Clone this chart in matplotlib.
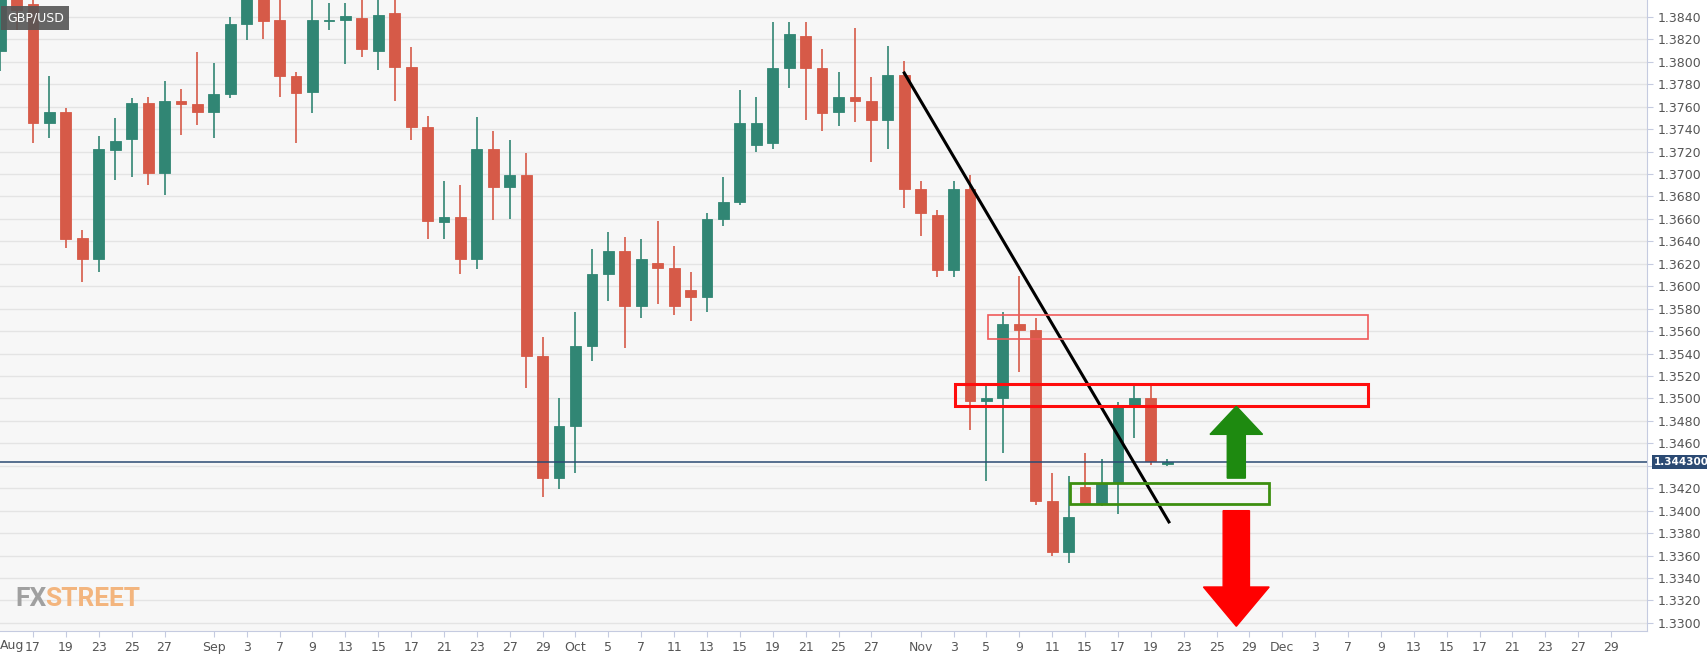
import matplotlib
matplotlib.use("Agg")
import matplotlib.pyplot as plt
from matplotlib.patches import Rectangle, FancyArrow
import pandas as pd

dates = pd.bdate_range("2021-08-13", "2021-11-22")
opens = [1.3810,1.3858,1.3851,1.3745,1.3755,1.3643,1.3624,1.3721,1.3731,1.3763,1.3701,1.3765,1.3762,1.3755,1.3771,1.3834,
         1.3865,1.3837,1.3787,1.3773,1.3836,1.3837,1.3839,1.3810,1.3843,1.3795,1.3742,1.3657,1.3662,1.3624,1.3722,1.3688,
         1.3699,1.3538,1.3429,1.3475,1.3547,1.3611,1.3631,1.3582,1.3621,1.3616,1.3597,1.3590,1.3660,1.3675,1.3726,1.3728,
         1.3794,1.3823,1.3794,1.3755,1.3769,1.3765,1.3748,1.3788,1.3687,1.3663,1.3614,1.3687,1.3498,1.3500,1.3566,1.3561,
         1.3409,1.3363,1.3421,1.3407,1.3425,1.3493,1.3500,1.3442]
closes = [1.3860,1.3846,1.3745,1.3755,1.3642,1.3624,1.3722,1.3729,1.3763,1.3701,1.3765,1.3762,1.3755,1.3771,1.3834,1.3865,
          1.3836,1.3787,1.3772,1.3837,1.3837,1.3841,1.3811,1.3842,1.3795,1.3742,1.3658,1.3662,1.3624,1.3722,1.3688,1.3699,
          1.3538,1.3429,1.3475,1.3547,1.3611,1.3631,1.3582,1.3624,1.3616,1.3582,1.3590,1.3660,1.3675,1.3745,1.3745,1.3794,
          1.3825,1.3794,1.3754,1.3769,1.3765,1.3748,1.3788,1.3687,1.3665,1.3614,1.3687,1.3498,1.3500,1.3566,1.3561,1.3409,
          1.3363,1.3394,1.3407,1.3425,1.3493,1.3500,1.3444,1.3443]
highs = [1.3870,1.3870,1.3855,1.3787,1.3759,1.3650,1.3734,1.3750,1.3768,1.3769,1.3783,1.3776,1.3809,1.3799,1.3840,1.3890,
         1.3880,1.3870,1.3791,1.3860,1.3852,1.3852,1.3856,1.3860,1.3855,1.3813,1.3752,1.3694,1.3690,1.3751,1.3738,1.3730,
         1.3719,1.3555,1.3500,1.3577,1.3633,1.3648,1.3644,1.3642,1.3658,1.3636,1.3613,1.3665,1.3697,1.3775,1.3769,1.3835,
         1.3835,1.3835,1.3811,1.3791,1.3830,1.3786,1.3814,1.3801,1.3694,1.3668,1.3694,1.3699,1.3512,1.3577,1.3609,1.3572,
         1.3434,1.3431,1.3451,1.3446,1.3497,1.3514,1.3512,1.3446]
lows = [1.3792,1.3828,1.3728,1.3732,1.3634,1.3604,1.3613,1.3695,1.3697,1.3690,1.3681,1.3735,1.3744,1.3732,1.3768,1.3819,
        1.3820,1.3769,1.3728,1.3754,1.3828,1.3798,1.3804,1.3793,1.3765,1.3730,1.3642,1.3642,1.3611,1.3615,1.3659,1.3660,
        1.3509,1.3412,1.3419,1.3434,1.3533,1.3587,1.3545,1.3572,1.3584,1.3574,1.3569,1.3577,1.3654,1.3672,1.3720,1.3722,
        1.3777,1.3748,1.3738,1.3743,1.3746,1.3711,1.3722,1.3670,1.3645,1.3608,1.3608,1.3472,1.3426,1.3451,1.3524,1.3405,
        1.3360,1.3353,1.3405,1.3404,1.3397,1.3465,1.3441,1.3440]
last_price = 1.3443
tick_labels = ["17","19","23","25","27","Sep","3","7","9","13","15","17","21","23","27","29","Oct","5","7","11","13",
               "15","19","21","25","27","Nov","3","5","9","11","15","17","19","23","25","29","Dec","3","7","9","13",
               "15","17","21","23","27","29"]
tick_idx = [2,4,6,8,10,13,15,17,19,21,23,25,27,29,31,33,35,37,39,41,43,45,47,49,51,53,56,58,60,62,64,66,68,70,72,74,76,
            78,80,82,84,86,88,90,92,94,96,98]

GREEN = "#318674"; RED = "#d65a48"
fig = plt.figure(figsize=(17.07, 6.55), dpi=100)
fig.patch.set_facecolor("white")
ax = fig.add_axes([0.0, 0.037, 0.965, 0.963])
ax.set_facecolor("#f7f7f7")
ax.set_xlim(-0.01, 100.2)
ax.set_ylim(1.3293, 1.3855)
yt = [1.3300 + 0.002 * i for i in range(28)]
ax.set_yticks(yt)
ax.yaxis.tick_right()
ax.set_yticklabels(["" if abs(v - 1.3440) < 1e-6 else f"{v:.4f}" for v in yt], fontsize=9, color="#555")
ax.grid(axis="y", color="#e4e4e4", lw=1)
ax.set_axisbelow(True)
ax.set_xticks(tick_idx)
ax.set_xticklabels(tick_labels, fontsize=9, color="#555")
ax.text(0.0, -0.013, "Aug", transform=ax.get_xaxis_transform(), fontsize=9, color="#555", va="top", ha="left")
ax.tick_params(colors="#c5cbe0", labelcolor="#555", length=4)
for s in ["top", "left"]:
    ax.spines[s].set_visible(False)
for s in ["right", "bottom"]:
    ax.spines[s].set_color("#c5cbe0")

w = 0.66
for i in range(len(opens)):
    o, c, h, l = opens[i], closes[i], highs[i], lows[i]
    col = GREEN if c >= o else RED
    ax.vlines(i, l, h, color=col, lw=1.2, zorder=2)
    b = max(abs(c - o), 0.00008)
    ax.add_patch(Rectangle((i - w / 2, min(o, c)), w, b, facecolor=col, edgecolor=col, lw=0.6, zorder=3))

ax.axhline(last_price, color="#2b4a73", lw=1.1, zorder=4)
ax.text(1.004, last_price, f"{last_price:.6f}", transform=ax.get_yaxis_transform(), fontsize=7.5, color="white",
        fontweight="bold", va="center", ha="left",
        bbox=dict(boxstyle="square,pad=0.2", fc="#2b4a73", ec="none"), clip_on=False, zorder=10)

# annotations
ax.plot([55, 71.1], [1.3790, 1.3390], color="black", lw=2.2, zorder=5)
ax.add_patch(Rectangle((60.1, 1.3553), 23.1, 0.0021, fill=False, ec="#ef5a5a", lw=1.2, zorder=5))
ax.add_patch(Rectangle((58.1, 1.3493), 25.1, 0.0020, fill=False, ec="#ff0d0d", lw=2.2, zorder=5))
ax.add_patch(Rectangle((65.1, 1.3406), 12.1, 0.0019, fill=False, ec="#3d8f10", lw=2.0, zorder=5))
ax.add_patch(FancyArrow(75.2, 1.3429, 0, 0.0064, width=1.1, head_width=3.2, head_length=0.0025,
                        length_includes_head=True, color="#1e8a10", zorder=6))
ax.add_patch(FancyArrow(75.2, 1.3400, 0, -0.0103, width=1.6, head_width=4.0, head_length=0.0035,
                        length_includes_head=True, color="#ff0000", zorder=6))

fig.text(0.004, 0.972, "GBP/USD", fontsize=9, color="white", va="center", ha="left",
         bbox=dict(boxstyle="square,pad=0.45", fc="#555555", ec="none", alpha=0.9))
fig.text(0.009, 0.085, "FX", fontsize=19, color="#a0a0a0", fontweight="bold", va="center", ha="left", family="Roboto")
fig.text(0.0265, 0.085, "STREET", fontsize=19, color="#f3b57e", fontweight="bold", va="center", ha="left", family="Roboto")

fig.savefig("out.png", dpi=100)
